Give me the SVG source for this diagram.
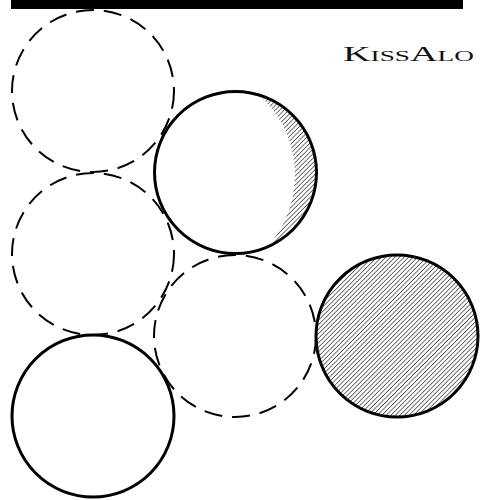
<svg xmlns="http://www.w3.org/2000/svg" width="480" height="500" viewBox="0 0 480 500">
  <style>
    .dashed { fill: none; stroke: #000; stroke-width: 2; stroke-dasharray: 18 10; }
    .solid { fill: none; stroke: #000; stroke-width: 3; }
    .title { font-family: "Liberation Serif", "DejaVu Serif", serif; font-size: 21px; font-variant: small-caps; fill: #111; }
  </style>
  <defs>
    <pattern id="hatch" patternUnits="userSpaceOnUse" width="3.2" height="3.2" patternTransform="rotate(45)">
      <line x1="0" y1="0" x2="0" y2="3.2" stroke="#000" stroke-width="1.1"/>
    </pattern>
    <clipPath id="mainClip">
      <circle cx="235.5" cy="172.5" r="80"/>
    </clipPath>
    <mask id="crescentMask">
      <rect x="0" y="0" width="480" height="500" fill="#fff"/>
      <circle cx="188" cy="175" r="107" fill="#000"/>
    </mask>
  </defs>

  <rect id="bar" x="11" y="0" width="452" height="9" fill="#000"/>

  <g id="title">
    <text class="title" x="343" y="61" textLength="131" lengthAdjust="spacingAndGlyphs">KissAlo</text>
  </g>

  <g id="circle-top-left">
    <circle class="dashed" cx="93" cy="91" r="81"/>
  </g>
  <g id="circle-middle-left">
    <circle class="dashed" cx="93" cy="254" r="81"/>
  </g>
  <g id="circle-center-lower">
    <circle class="dashed" cx="235" cy="336" r="81"/>
  </g>
  <g id="circle-center-upper">
    <g clip-path="url(#mainClip)">
      <rect x="150" y="85" width="175" height="175" fill="url(#hatch)" mask="url(#crescentMask)"/>
    </g>
    <circle class="solid" cx="235.5" cy="172.5" r="81"/>
  </g>
  <g id="circle-bottom-left">
    <circle class="solid" cx="93" cy="416" r="81"/>
  </g>
  <g id="circle-right-hatched">
    <circle cx="397" cy="336" r="81" fill="url(#hatch)" stroke="#000" stroke-width="3"/>
  </g>

  <g id="connectors"></g>
</svg>
